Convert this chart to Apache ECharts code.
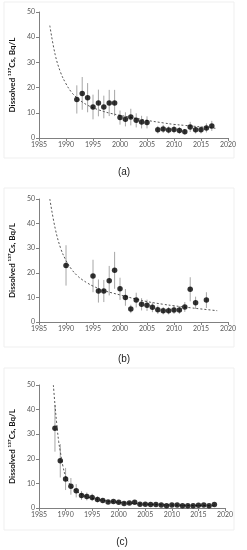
<!DOCTYPE html>
<html><head><meta charset="utf-8">
<script src="https://cdn.jsdelivr.net/npm/echarts@6/dist/echarts.min.js"></script>
<style>html,body{margin:0;padding:0;background:#fff}#c{width:247px;height:550px}</style>
</head><body><div id="c"></div>
<script>
// Panel (a)
const yearsA = [1992,1993,1994,1995,1996,1997,1998,1999,2000,2001,2002,2003,2004,2005,2007,2008,2009,2010,2011,2012,2013,2014,2015,2016,2017];
const valuesA = [15.3,17.7,16.0,12.3,13.9,12.3,13.9,13.9,8.1,7.4,8.3,7.0,6.3,6.2,3.3,3.6,3.2,3.4,3.0,2.5,4.4,3.3,3.3,4.0,4.8];
const errorsA = [5.6,6.5,5.8,4.9,5.3,4.5,5.2,5.2,2.8,2.8,3.3,2.8,2.5,2.4,1.5,1.6,1.4,1.5,1.3,1.1,2.0,1.5,1.5,1.8,2.0];
const fitYearsA = [1987,1988,1989,1990,1991,1992,1993,1994,1995,1996,1997,1998,2000,2002,2005,2008,2010,2012,2015,2018];
const fitValuesA = [44.6,33,26,21.5,18.2,16,14.3,13,12,11.2,10.5,9.9,9,8.2,7.0,6.0,5.4,5.0,4.4,3.8];
// Panel (b)
const yearsB = [1990,1995,1996,1997,1998,1999,2000,2001,2002,2003,2004,2005,2006,2007,2008,2009,2010,2011,2012,2013,2014,2016];
const valuesB = [23.0,18.7,12.6,12.6,16.8,21.0,13.5,10.0,5.3,8.9,7.2,6.8,6.0,5.0,4.6,4.6,4.9,4.9,6.1,13.3,7.8,8.9];
const errorsB = [8.2,6.6,4.7,4.5,6.0,7.5,4.5,3.4,1.7,3.0,2.5,2.3,2.0,1.7,1.5,1.5,1.6,1.6,2.0,4.9,2.5,3.2];
const fitYearsB = [1987,1988,1989,1990,1991,1992,1993,1994,1995,1997,2000,2003,2005,2008,2010,2013,2015,2018];
const fitValuesB = [50,38,30,25,21.5,19,17.2,15.8,14.6,12.8,11,9.3,8.3,7.2,6.6,5.8,5.3,4.6];
// Panel (c)
const yearsC = [1988,1989,1990,1991,1992,1993,1994,1995,1996,1997,1998,1999,2000,2001,2002,2003,2004,2005,2006,2007,2008,2009,2010,2011,2012,2013,2014,2015,2016,2017,2018];
const valuesC = [32.4,19.2,11.8,8.8,7.0,5.1,4.7,4.3,3.5,3.0,2.4,2.6,2.3,1.8,2.0,2.3,1.5,1.5,1.4,1.4,1.2,0.9,1.2,1.2,0.9,0.9,0.9,1.1,1.2,0.9,1.4];
const errorsC = [9.5,6.8,4.5,3.4,2.7,1.8,1.6,1.5,1.2,0.8,0.6,0.6,0.6,0.5,0.5,0.6,0.4,0.4,0.4,0.4,0.3,0.3,0.3,0.3,0.3,0.3,0.3,0.3,0.3,0.3,0.4];
const fitYearsC = [1987.7,1988,1988.3,1988.7,1989,1989.5,1990,1991,1992,1993,1994,1995,1997,2000,2005,2010,2015,2018];
const fitValuesC = [50,42,35,27,23,17,13,9,7,5.5,4.6,4,3.1,2.3,1.6,1.2,1.0,0.9];
// Axis ticks
const xMin = 1985, xMax = 2020, xStep = 5;
const yMin = 0, yMax = 50, yStep = 10;
const yTitle = 'Dissolved \u00b9\u00b3\u2077Cs, Bq/L';
const panelLabels = ['(a)','(b)','(c)'];

const FONT = 'Lato, "Open Sans", sans-serif';
const grids = [
  {left:37, top:12, width:191, height:126},
  {left:37, top:199, width:191, height:123},
  {left:37, top:385, width:188, height:123}
];
function xAxis(i){return {type:'value',gridIndex:i,min:xMin,max:xMax,interval:xStep,
  axisLine:{lineStyle:{color:'#808080',width:1}},axisTick:{show:true,length:3,lineStyle:{color:'#808080'}},
  splitLine:{show:false},axisLabel:{fontSize:7,color:'#595959',fontFamily:FONT,margin:3,formatter:v=>String(v)}};}
function yAxis(i){return {type:'value',gridIndex:i,min:yMin,max:yMax,interval:yStep,
  axisLine:{show:true,lineStyle:{color:'#808080',width:1}},axisTick:{show:true,length:3,lineStyle:{color:'#808080'}},
  splitLine:{show:false},axisLabel:{fontSize:7,color:'#595959',fontFamily:FONT,margin:4},
  name:yTitle,nameLocation:'middle',nameGap:18,nameRotate:90,
  nameTextStyle:{fontSize:8,fontWeight:'bold',color:'#111',fontFamily:FONT}};}
function errSeries(i,ys,vs,es){
  return {type:'custom',xAxisIndex:i,yAxisIndex:i,z:1,
    data:ys.map((y,k)=>[y,vs[k]-es[k],vs[k]+es[k]]),
    renderItem:function(params,api){
      const lo=api.coord([api.value(0),api.value(1)]);
      const hi=api.coord([api.value(0),api.value(2)]);
      return {type:'line',shape:{x1:lo[0],y1:lo[1],x2:hi[0],y2:hi[1]},style:{stroke:'#a6a6a6',lineWidth:1}};
    }};
}
function ptSeries(i,ys,vs){
  return {type:'scatter',xAxisIndex:i,yAxisIndex:i,z:3,symbol:'circle',symbolSize:5.5,
    itemStyle:{color:'#000'},data:ys.map((y,k)=>[y,vs[k]])};
}
function fitSeries(i,ys,vs){
  return {type:'line',xAxisIndex:i,yAxisIndex:i,z:2,smooth:0.4,showSymbol:false,
    lineStyle:{color:'#555',width:1,type:[2,2]},data:ys.map((y,k)=>[y,vs[k]])};
}
const boxes = [[4,2,230,156],[4,188,230,159],[4,368,230,162]];
const labelPos = [[124,172],[124,359],[122,542]];
const graphic = [];
boxes.forEach(b=>graphic.push({type:'rect',shape:{x:b[0],y:b[1],width:b[2],height:b[3]},style:{fill:'none',stroke:'#efefef',lineWidth:1},silent:true}));
panelLabels.forEach((t,i)=>graphic.push({type:'text',x:labelPos[i][0],y:labelPos[i][1],style:{text:t,fontSize:10,fill:'#222',font:'10px "Liberation Serif", serif',textAlign:'center',textVerticalAlign:'middle'}}));

const chart = echarts.init(document.getElementById('c'),null,{renderer:'canvas'});
chart.setOption({
  animation:false,
  grid:grids,
  xAxis:[xAxis(0),xAxis(1),xAxis(2)],
  yAxis:[yAxis(0),yAxis(1),yAxis(2)],
  graphic:graphic,
  series:[
    fitSeries(0,fitYearsA,fitValuesA),errSeries(0,yearsA,valuesA,errorsA),ptSeries(0,yearsA,valuesA),
    fitSeries(1,fitYearsB,fitValuesB),errSeries(1,yearsB,valuesB,errorsB),ptSeries(1,yearsB,valuesB),
    fitSeries(2,fitYearsC,fitValuesC),errSeries(2,yearsC,valuesC,errorsC),ptSeries(2,yearsC,valuesC)
  ]
});
</script></body></html>
